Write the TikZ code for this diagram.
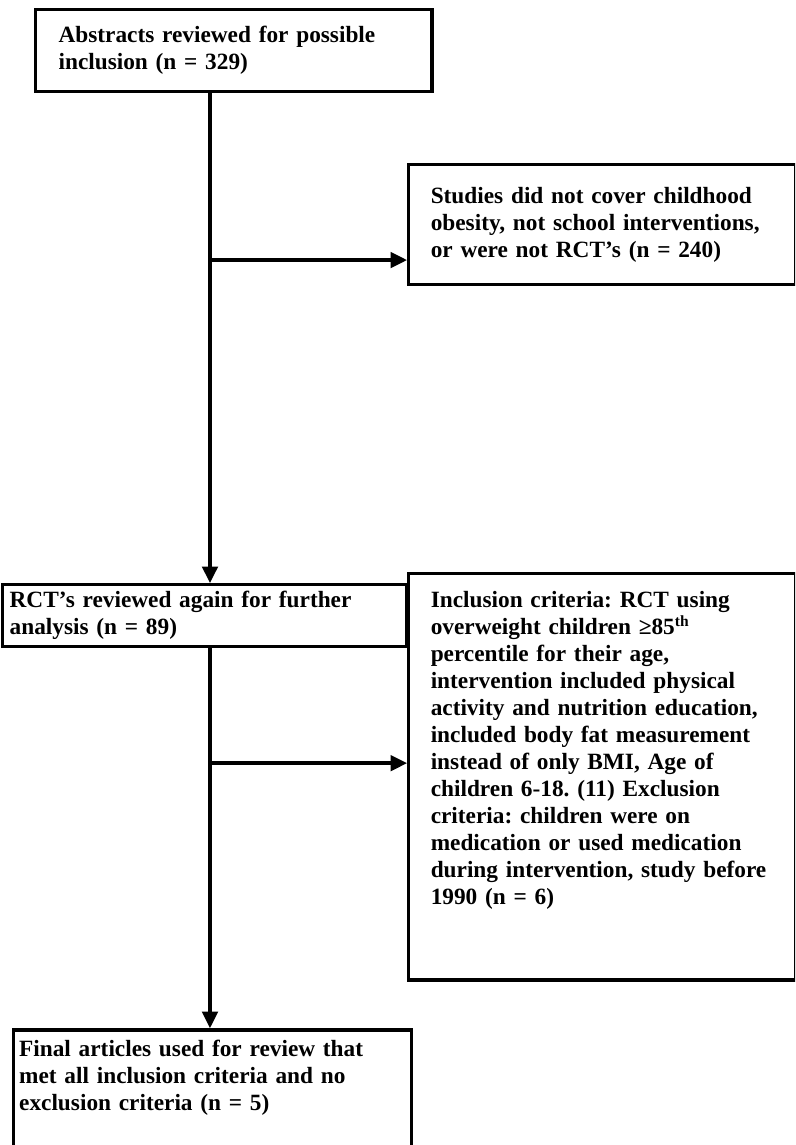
\documentclass[tikz,border=0pt]{standalone}
\usepackage{fontspec}
\setmainfont{Liberation Serif}
\usetikzlibrary{arrows.meta}
\frenchspacing

\begin{document}
\begin{tikzpicture}[
    flowbox/.style={rectangle, draw=black, line width=1.7pt,
                    align=left, anchor=north west, inner ysep=0pt,
                    font=\fontsize{12pt}{13.9pt}\selectfont\bfseries},
    arrow/.style={-{Triangle[length=0.3cm, width=0.28cm]}, line width=1.8pt}
]

% page (last box runs off the bottom)
\path[use as bounding box, clip] (0,0) rectangle (14.39,-20.72);

% Abstracts
\node[flowbox, minimum width=7.17cm, minimum height=1.48cm,
      text width=6.34cm, inner xsep=0.415cm] (abstracts) at (0.615,-0.145)
      {Abstracts reviewed for possible\\inclusion (n = 329)};

% First exclusion
\node[flowbox, minimum width=7.005cm, minimum height=2.17cm,
      text width=6.21cm, inner xsep=0.398cm] (studies) at (7.367,-2.95)
      {Studies did not cover childhood\\obesity, not school interventions,\\or were not RCT’s (n = 240)};

% RCT's
\node[flowbox, minimum width=7.31cm, minimum height=1.12cm,
      text width=7.06cm, inner xsep=0.125cm] (rct) at (0.02,-10.552)
      {RCT’s reviewed again for further\\analysis (n = 89)};

% Criteria
\node[flowbox, text width=6.21cm, inner xsep=0.398cm, inner ysep=0.325cm,
      text height=0.29cm, text depth=6.41cm] (inclusion) at (7.367,-10.353)
      {Inclusion criteria: RCT using\\overweight children ≥85\textsuperscript{th}\\percentile for their age,\\intervention included physical\\activity and nutrition education,\\included body fat measurement\\instead of only BMI, Age of\\children 6-18. (11) Exclusion\\criteria: children were on\\medication or used medication\\during intervention, study before\\1990 (n = 6)};

% Final articles
\node[flowbox, text width=7.0cm, inner xsep=0.1cm, inner ysep=0.2cm,
      text height=0.29cm, text depth=3cm] (final) at (0.217,-18.607)
      {Final articles used for review that\\met all inclusion criteria and no\\exclusion criteria (n = 5)};

% trunk and branch points
\coordinate (trunk) at (3.80,0);
\coordinate (split1) at (3.80,-4.706);
\coordinate (split2) at (3.80,-13.81);

% Arrows
\draw[arrow] (abstracts.south -| trunk) -- (rct.north -| trunk);
\draw[arrow] (split1) -- (split1 -| studies.west);
\draw[arrow] (rct.south -| trunk) -- (final.north -| trunk);
\draw[arrow] (split2) -- (split2 -| inclusion.west);

\end{tikzpicture}
\end{document}
